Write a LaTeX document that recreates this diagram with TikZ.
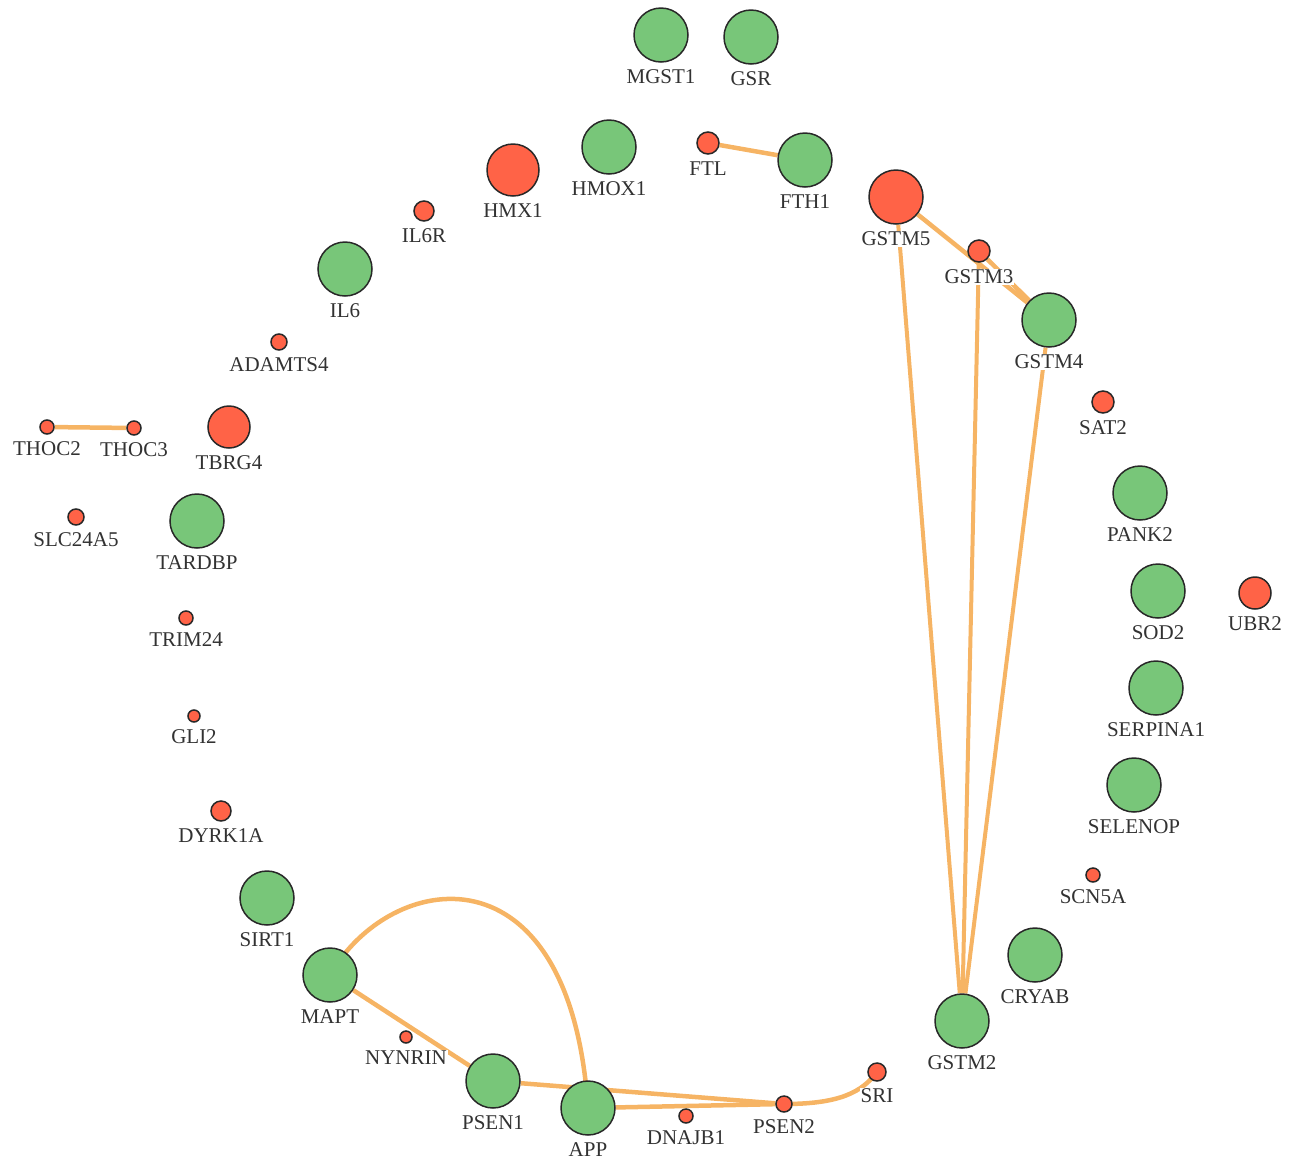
\documentclass[tikz,border=0pt]{standalone}
\usepackage{fontspec}
\setmainfont{Liberation Serif}
\usetikzlibrary{backgrounds}
\definecolor{gfill}{RGB}{120,198,121}
\definecolor{rfill}{RGB}{255,99,71}
\definecolor{edgecol}{RGB}{246,180,100}
\definecolor{rim}{RGB}{40,40,40}
\definecolor{txt}{RGB}{50,50,50}
\tikzset{
  lab/.style={font=\fontsize{21}{21}\selectfont, text=txt, fill=white, inner sep=1pt},
  gn/.style={circle, draw=rim, line width=1.5pt, fill=gfill, inner sep=0pt, minimum size=54pt},
  rn/.style={circle, draw=rim, line width=1.5pt, fill=rfill, inner sep=0pt, minimum size=#1},
  edge/.style={draw=edgecol, line width=4.5pt}
}
\begin{document}
\begin{tikzpicture}[x=1pt,y=-1pt,label distance=6pt]
  \useasboundingbox (0,0) rectangle (1302,1160);
  % top arc
  \node[gn, label={[lab]below:MGST1}] (mgst1) at (661,35) {};
  \node[gn, label={[lab]below:GSR}] (gsr) at (751,37) {};
  \node[gn, label={[lab]below:HMOX1}] (hmox1) at (609,147) {};
  \node[rn=22pt, label={[lab]below:FTL}] (ftl) at (708,143) {};
  \node[gn, label={[lab]below:FTH1}] (fth1) at (805,160) {};
  \node[rn=52pt, label={[lab]below:HMX1}] (hmx1) at (513,170) {};
  \node[rn=54pt, label={[lab]below:GSTM5}] (gstm5) at (896,197) {};
  \node[rn=20pt, label={[lab]below:IL6R}] (il6r) at (424,211) {};
  \node[rn=22pt, label={[lab]below:GSTM3}] (gstm3) at (979,251) {};
  \node[gn, label={[lab]below:IL6}] (il6) at (345,269) {};
  \node[gn, label={[lab]below:GSTM4}] (gstm4) at (1049,320) {};
  % left side
  \node[rn=16pt, label={[lab]below:ADAMTS4}] (adamts4) at (279,342) {};
  \node[rn=14pt, label={[lab]below:THOC2}] (thoc2) at (47,427) {};
  \node[rn=14pt, label={[lab]below:THOC3}] (thoc3) at (134,428) {};
  \node[rn=42pt, label={[lab]below:TBRG4}] (tbrg4) at (229,427) {};
  \node[rn=16pt, label={[lab]below:SLC24A5}] (slc24a5) at (76,517) {};
  \node[gn, label={[lab]below:TARDBP}] (tardbp) at (197,521) {};
  \node[rn=14pt, label={[lab]below:TRIM24}] (trim24) at (186,618) {};
  \node[rn=12pt, label={[lab]below:GLI2}] (gli2) at (194,716) {};
  \node[rn=20pt, label={[lab]below:DYRK1A}] (dyrk1a) at (221,811) {};
  \node[gn, label={[lab]below:SIRT1}] (sirt1) at (267,898) {};
  \node[gn, label={[lab]below:MAPT}] (mapt) at (330,975) {};
  % right side
  \node[rn=22pt, label={[lab]below:SAT2}] (sat2) at (1103,402) {};
  \node[gn, label={[lab]below:PANK2}] (pank2) at (1140,493) {};
  \node[gn, label={[lab]below:SOD2}] (sod2) at (1158,591) {};
  \node[rn=32pt, label={[lab]below:UBR2}] (ubr2) at (1255,593) {};
  \node[gn, label={[lab]below:SERPINA1}] (serpina1) at (1156,688) {};
  \node[gn, label={[lab]below:SELENOP}] (selenop) at (1134,785) {};
  \node[rn=14pt, label={[lab]below:SCN5A}] (scn5a) at (1093,875) {};
  \node[gn, label={[lab]below:CRYAB}] (cryab) at (1035,955) {};
  \node[gn, label={[lab]below:GSTM2}] (gstm2) at (962,1021) {};
  % bottom
  \node[rn=12pt, label={[lab]below:NYNRIN}] (nynrin) at (406,1037) {};
  \node[rn=18pt, label={[lab]below:SRI}] (sri) at (877,1072) {};
  \node[gn, label={[lab]below:PSEN1}] (psen1) at (493,1081) {};
  \node[gn, label={[lab]below:APP}] (app) at (588,1108) {};
  \node[rn=14pt, label={[lab]below:DNAJB1}] (dnajb1) at (686,1116) {};
  \node[rn=16pt, label={[lab]below:PSEN2}] (psen2) at (784,1104) {};
  % edges behind
  \begin{pgfonlayer}{background}
    \draw[edge] (ftl) -- (fth1); \draw[edge] (thoc2) -- (thoc3);
    \draw[edge] (gstm5) -- (gstm4); \draw[edge] (gstm3) -- (gstm4);
    \draw[edge, line width=4pt] (gstm5) -- (gstm2); \draw[edge, line width=4pt] (gstm3) -- (gstm2);
    \draw[edge, line width=4pt] (gstm4) -- (gstm2);
    \draw[edge] (mapt) -- (psen1);
    \draw[edge] (mapt.center) .. controls (390,870) and (570,840) .. (app.center);
    \draw[edge] (psen1) -- (psen2); \draw[edge] (app) -- (psen2);
    \draw[edge] (psen2.center) .. controls (840,1104) and (862,1092) .. (sri.center);
  \end{pgfonlayer}
\end{tikzpicture}
\end{document}
